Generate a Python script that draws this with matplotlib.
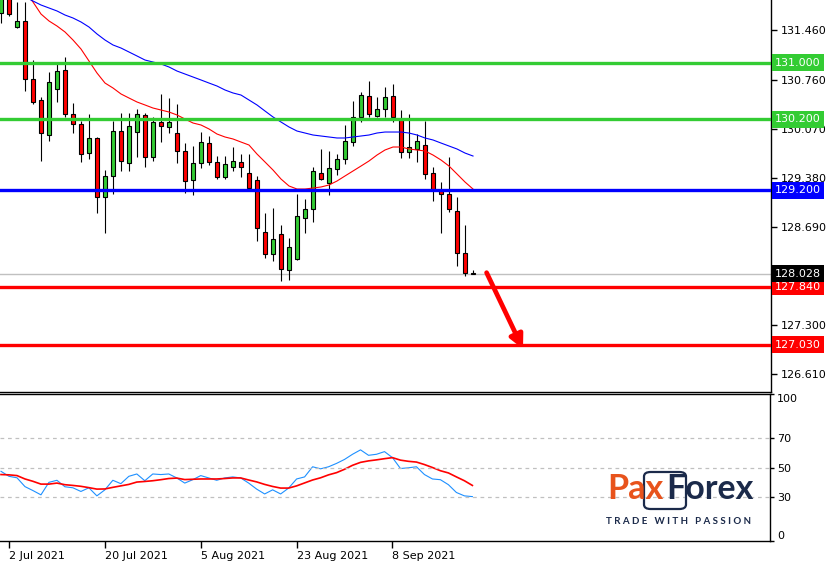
import numpy as np
import matplotlib.pyplot as plt
import matplotlib.transforms as mtransforms
from matplotlib.patches import FancyBboxPatch

# daily candles 1 Jul 2021 .. 22 Sep 2021
opens = [131.699, 131.925, 131.502, 131.587, 130.770, 130.474, 129.981, 130.629, 130.897, 130.277,
         130.136, 129.727, 129.939, 129.108, 129.404, 130.037, 129.587, 130.023, 130.263, 129.671,
         130.164, 130.094, 130.009, 129.756, 129.347, 129.587, 129.868, 129.601, 129.389, 129.530,
         129.601, 129.446, 129.347, 128.615, 128.305, 128.587, 128.080, 128.234, 128.812, 128.939,
         129.446, 129.305, 129.502, 129.643, 129.882, 130.235, 130.530, 130.249, 130.347, 130.530,
         130.192, 129.742, 129.784, 129.840, 129.446, 129.192, 129.150, 128.910, 128.319, 128.035]
highs = [131.953, 131.967, 131.854, 131.854, 131.037, 130.516, 130.868, 130.981, 131.080, 130.432,
         130.178, 130.277, 129.953, 129.488, 130.178, 130.291, 130.291, 130.347, 130.291, 130.234,
         130.559, 130.502, 130.418, 129.868, 129.826, 130.023, 129.967, 129.685, 129.685, 129.812,
         129.713, 129.713, 129.404, 128.882, 128.953, 128.713, 128.530, 129.150, 129.080, 129.530,
         129.784, 129.756, 129.713, 130.122, 130.460, 130.587, 130.742, 130.516, 130.657, 130.699,
         130.333, 130.277, 129.995, 130.178, 129.530, 129.319, 129.671, 129.108, 128.713, 128.080]
lows = [131.559, 131.657, 131.495, 130.601, 130.418, 129.615, 129.897, 130.446, 130.235, 130.009,
        129.601, 129.643, 128.882, 128.601, 129.150, 129.474, 129.474, 129.671, 129.530, 129.615,
        129.882, 130.009, 129.587, 129.164, 129.136, 129.516, 129.558, 129.361, 129.361, 129.474,
        129.389, 129.220, 128.488, 128.249, 128.206, 127.925, 127.939, 128.220, 128.601, 128.756,
        129.347, 129.136, 129.418, 129.573, 129.826, 130.164, 130.235, 130.235, 130.235, 130.164,
        129.657, 129.657, 129.601, 129.361, 129.051, 128.601, 128.896, 128.136, 127.995, 128.020]
closes = [131.911, 131.685, 131.587, 130.770, 130.446, 130.009, 130.728, 130.882, 130.277, 130.136,
          129.713, 129.939, 129.108, 129.404, 130.037, 129.615, 130.108, 130.277, 129.671, 130.164,
          130.108, 130.164, 129.756, 129.333, 129.587, 129.882, 129.601, 129.389, 129.573, 129.615,
          129.530, 129.235, 128.671, 128.305, 128.516, 128.094, 128.403, 128.840, 128.939, 129.474,
          129.361, 129.516, 129.643, 129.896, 130.235, 130.544, 130.277, 130.347, 130.516, 130.235,
          129.742, 129.812, 129.896, 129.432, 129.206, 129.150, 128.939, 128.319, 128.037, 128.028]

# moving averages, visible from candle 3 on
ma_start = 3
ma_fast = [131.995, 131.854, 131.685, 131.587, 131.516, 131.432, 131.319, 131.192, 131.023, 130.854,
           130.713, 130.643, 130.559, 130.502, 130.446, 130.404, 130.361, 130.333, 130.305, 130.263,
           130.206, 130.150, 130.122, 130.066, 129.995, 129.953, 129.925, 129.882, 129.840, 129.713,
           129.601, 129.488, 129.361, 129.263, 129.220, 129.220, 129.234, 129.249, 129.277, 129.333,
           129.404, 129.474, 129.544, 129.615, 129.699, 129.770, 129.812, 129.812, 129.784, 129.770,
           129.756, 129.699, 129.629, 129.544, 129.432, 129.319, 129.220]
ma_slow = [131.925, 131.868, 131.812, 131.770, 131.728, 131.671, 131.629, 131.573, 131.502, 131.404,
           131.319, 131.249, 131.206, 131.150, 131.094, 131.037, 131.009, 130.981, 130.939, 130.882,
           130.840, 130.798, 130.756, 130.713, 130.671, 130.615, 130.573, 130.544, 130.474, 130.404,
           130.319, 130.235, 130.164, 130.094, 130.037, 130.009, 129.981, 129.967, 129.953, 129.939,
           129.939, 129.953, 129.967, 129.981, 130.009, 130.023, 130.023, 130.023, 130.009, 129.981,
           129.939, 129.911, 129.868, 129.826, 129.784, 129.727, 129.685]

# oscillator panel
osc_main = [47.4, 44.0, 43.0, 37.0, 34.3, 31.4, 39.9, 41.3, 36.9, 36.2,
            33.7, 36.2, 30.7, 34.8, 41.3, 39.0, 44.0, 45.6, 41.0, 45.6,
            45.2, 45.6, 42.9, 39.4, 41.7, 44.5, 42.9, 41.3, 42.9, 43.6,
            42.9, 39.4, 35.3, 32.0, 34.8, 32.0, 36.0, 42.2, 43.6, 50.5,
            49.1, 50.5, 52.8, 55.5, 59.0, 62.0, 58.3, 59.0, 60.8, 56.7,
            49.3, 49.8, 50.5, 45.2, 42.2, 41.7, 38.3, 33.0, 30.7, 30.2]
osc_signal = [45.2, 45.0, 44.5, 42.2, 40.6, 38.7, 38.7, 39.4, 38.3, 37.8,
              37.2, 36.3, 35.3, 35.4, 36.5, 37.5, 38.5, 40.1, 40.5, 41.0,
              41.7, 42.5, 42.8, 41.8, 42.0, 42.2, 42.2, 42.2, 42.5, 42.9,
              42.9, 41.5, 40.2, 38.5, 37.1, 36.0, 36.0, 37.5, 39.5, 41.5,
              43.0, 45.0, 46.5, 48.8, 51.5, 53.5, 54.5, 55.2, 56.0, 56.7,
              55.0, 54.2, 53.7, 52.0, 50.0, 47.8, 46.3, 43.6, 41.0, 37.8]

levels = [131.000, 130.200, 129.200, 127.840, 127.030]
level_colors = ['#33cc33', '#33cc33', '#0000ff', '#ff0000', '#ff0000']
last_price = 128.028
arrow_start = (60.7, 128.042)
arrow_end = (65.25, 126.967)

price_ticks = [131.460, 130.760, 130.070, 129.380, 128.690, 127.300, 126.610]
date_tick_pos = [1, 13, 25, 37, 49]
date_tick_labels = ['2 Jul 2021', '20 Jul 2021', '5 Aug 2021', '23 Aug 2021', '8 Sep 2021']

W, H = 832, 562
fig = plt.figure(figsize=(W / 100, H / 100), dpi=100)
plt.rcParams['font.family'] = ['DejaVu Sans']

ax = fig.add_axes([0, 1 - 392 / H, 771 / W, 392 / H])
ax2 = fig.add_axes([0, 1 - 541 / H, 770 / W, 147 / H])

x = np.arange(len(opens))
o = np.array(opens); c = np.array(closes)
up = c >= o
body_lo = np.minimum(o, c)
body_h = np.maximum(np.abs(c - o), 0.004)

ax.vlines(x, lows, highs, color='black', lw=0.8, zorder=2)
ax.bar(x[up], body_h[up], bottom=body_lo[up], width=0.62, color='#33cc33',
       edgecolor='black', linewidth=0.8, zorder=3)
ax.bar(x[~up], body_h[~up], bottom=body_lo[~up], width=0.62, color='#ff0000',
       edgecolor='black', linewidth=0.8, zorder=3)

xm = np.arange(ma_start, ma_start + len(ma_fast))
ax.plot(xm, ma_fast, color='#ff0000', lw=0.8, zorder=4)
ax.plot(xm, ma_slow, color='#0000ff', lw=0.8, zorder=4)

ax.axhline(last_price, color='#c0c0c0', lw=1, zorder=1)
for lvl, col in zip(levels, level_colors):
    ax.axhline(lvl, color=col, lw=2.4, zorder=5)

ax.annotate('', xy=arrow_end, xytext=arrow_start,
            arrowprops=dict(arrowstyle='-|>,head_length=0.8,head_width=0.4',
                            color='#ff0000', lw=3.4, shrinkA=0, shrinkB=0), zorder=6)

ax.set_xlim(-0.125, 96.25)
ax.set_ylim(131.8825 - 392 / 71, 131.8825)
ax.yaxis.tick_right()
ax.set_yticks(price_ticks)
ax.set_yticklabels([f'{t:.3f}' for t in price_ticks])
ax.tick_params(axis='y', direction='out', length=4, width=1, labelsize=8, pad=3)
ax.set_xticks([])
for s in ['left', 'top']:
    ax.spines[s].set_visible(False)
ax.spines['right'].set_linewidth(1)
ax.spines['bottom'].set_linewidth(1)

trans = mtransforms.blended_transform_factory(ax.transAxes, ax.transData)
for lvl, col in zip(levels + [last_price], level_colors + ['black']):
    ax.text(1.0052, lvl, f'{lvl:.3f}', transform=trans, color='white', fontsize=8,
            va='center', ha='left', clip_on=False, zorder=10,
            bbox=dict(boxstyle='square,pad=0.3', fc=col, ec='none'))

# oscillator
ax2.plot(x, osc_main, color='#1e90ff', lw=0.8)
ax2.plot(x, osc_signal, color='#ff0000', lw=1.2)
for g in [70, 50, 30]:
    ax2.axhline(g, color='#c0c0c0', lw=0.9, ls=(0, (3, 3)))
ax2.set_xlim(-0.125, 96.25)
ax2.set_ylim(0, 100)
ax2.yaxis.tick_right()
ax2.set_yticks([0, 30, 50, 70, 100])
ax2.set_yticklabels(['0', '30', '50', '70', '100'])
ax2.tick_params(axis='y', direction='out', length=3, width=1, labelsize=8, pad=2)
ylabs = ax2.get_yticklabels()
ylabs[0].set_va('bottom')
ylabs[-1].set_va('top')
ax2.set_xticks(date_tick_pos)
ax2.set_xticklabels(date_tick_labels)
ax2.tick_params(axis='x', direction='out', length=5, width=1, labelsize=8, pad=2)
for lab in ax2.get_xticklabels():
    lab.set_ha('left')
ax2.spines['left'].set_visible(False)
for s in ['right', 'bottom', 'top']:
    ax2.spines[s].set_linewidth(1)

# logo
fig.patches.append(FancyBboxPatch((644 / W, 1 - 509 / H), 42 / W, 37 / H,
                                  boxstyle='round,pad=0,rounding_size=0.008',
                                  transform=fig.transFigure, fc='none',
                                  ec='#1b2a4a', lw=1.6))
fig.text(664 / W, 1 - 489 / H, 'Pax', color='#e8531c', fontsize=24.5, fontweight='bold',
         family='Lato', ha='right', va='center')
fig.text(666 / W, 1 - 489 / H, 'Forex', color='#1b2a4a', fontsize=24.5, fontweight='bold',
         family='Lato', ha='left', va='center')
fig.text(679 / W, 1 - 521 / H, 'T R A D E   W I T H   P A S S I O N', color='#1b2a4a',
         fontsize=7, fontweight='bold', family='Lato', ha='center', va='center')

fig.savefig('out.png', dpi=100)
